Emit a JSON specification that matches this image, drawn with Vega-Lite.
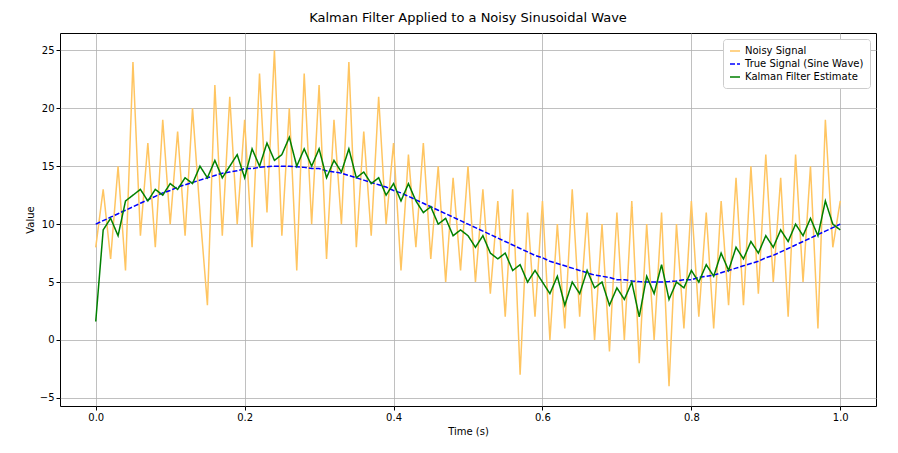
{
  "$schema": "https://vega.github.io/schema/vega-lite/v6.json",
  "width": 816,
  "height": 373,
  "autosize": "none",
  "padding": {"left": 60, "top": 33, "right": 22, "bottom": 47},
  "background": "white",
  "title": {"text": "Kalman Filter Applied to a Noisy Sinusoidal Wave", "fontSize": 13, "fontWeight": "normal", "font": "DejaVu Sans", "offset": 8, "color": "black"},
  "data": {
    "values": [
      {"t": 0.00, "n": 8, "s": 10.0, "k": 1.6},
      {"t": 0.01, "n": 13, "s": 10.3, "k": 9.5},
      {"t": 0.02, "n": 7, "s": 10.6, "k": 10.5},
      {"t": 0.03, "n": 15, "s": 10.9, "k": 9.0},
      {"t": 0.04, "n": 6, "s": 11.2, "k": 12},
      {"t": 0.05, "n": 24, "s": 11.5, "k": 12.5},
      {"t": 0.06, "n": 9, "s": 11.8, "k": 13},
      {"t": 0.07, "n": 17, "s": 12.1, "k": 12},
      {"t": 0.08, "n": 8, "s": 12.4, "k": 13},
      {"t": 0.09, "n": 19, "s": 12.7, "k": 12.5},
      {"t": 0.10, "n": 10, "s": 12.9, "k": 13.5},
      {"t": 0.11, "n": 18, "s": 13.2, "k": 13},
      {"t": 0.12, "n": 9, "s": 13.4, "k": 14},
      {"t": 0.13, "n": 20, "s": 13.6, "k": 13.5},
      {"t": 0.14, "n": 11, "s": 13.8, "k": 15},
      {"t": 0.15, "n": 3, "s": 14.0, "k": 14},
      {"t": 0.16, "n": 22, "s": 14.2, "k": 15.5},
      {"t": 0.17, "n": 9, "s": 14.4, "k": 14},
      {"t": 0.18, "n": 21, "s": 14.5, "k": 15},
      {"t": 0.19, "n": 10, "s": 14.6, "k": 16},
      {"t": 0.20, "n": 19, "s": 14.8, "k": 14},
      {"t": 0.21, "n": 8, "s": 14.8, "k": 16.5},
      {"t": 0.22, "n": 23, "s": 14.9, "k": 15},
      {"t": 0.23, "n": 11, "s": 14.96, "k": 17},
      {"t": 0.24, "n": 25, "s": 15.0, "k": 15.5},
      {"t": 0.25, "n": 9, "s": 15.0, "k": 16},
      {"t": 0.26, "n": 20, "s": 15.0, "k": 17.5},
      {"t": 0.27, "n": 6, "s": 14.96, "k": 15},
      {"t": 0.28, "n": 23, "s": 14.9, "k": 16.5},
      {"t": 0.29, "n": 10, "s": 14.8, "k": 15},
      {"t": 0.30, "n": 22, "s": 14.8, "k": 16.5},
      {"t": 0.31, "n": 7, "s": 14.6, "k": 14},
      {"t": 0.32, "n": 19, "s": 14.5, "k": 15.5},
      {"t": 0.33, "n": 10, "s": 14.4, "k": 14.5},
      {"t": 0.34, "n": 24, "s": 14.2, "k": 16.5},
      {"t": 0.35, "n": 8, "s": 14.0, "k": 14},
      {"t": 0.36, "n": 18, "s": 13.8, "k": 14.5},
      {"t": 0.37, "n": 9, "s": 13.6, "k": 13.5},
      {"t": 0.38, "n": 21, "s": 13.4, "k": 14},
      {"t": 0.39, "n": 10, "s": 13.2, "k": 12.5},
      {"t": 0.40, "n": 17, "s": 12.9, "k": 13.5},
      {"t": 0.41, "n": 6, "s": 12.7, "k": 12},
      {"t": 0.42, "n": 16, "s": 12.4, "k": 13.5},
      {"t": 0.43, "n": 8, "s": 12.1, "k": 12},
      {"t": 0.44, "n": 17, "s": 11.8, "k": 11},
      {"t": 0.45, "n": 7, "s": 11.5, "k": 11.5},
      {"t": 0.46, "n": 15, "s": 11.2, "k": 10},
      {"t": 0.47, "n": 5, "s": 10.9, "k": 10.5},
      {"t": 0.48, "n": 14, "s": 10.6, "k": 9},
      {"t": 0.49, "n": 6, "s": 10.3, "k": 9.5},
      {"t": 0.50, "n": 15, "s": 10.0, "k": 9},
      {"t": 0.51, "n": 5, "s": 9.7, "k": 8},
      {"t": 0.52, "n": 13, "s": 9.4, "k": 9},
      {"t": 0.53, "n": 4, "s": 9.1, "k": 7.5},
      {"t": 0.54, "n": 12, "s": 8.8, "k": 7},
      {"t": 0.55, "n": 2, "s": 8.5, "k": 7.5},
      {"t": 0.56, "n": 13, "s": 8.2, "k": 6},
      {"t": 0.57, "n": -3, "s": 7.9, "k": 6.5},
      {"t": 0.58, "n": 11, "s": 7.6, "k": 5},
      {"t": 0.59, "n": 2, "s": 7.3, "k": 6},
      {"t": 0.60, "n": 12, "s": 7.1, "k": 5},
      {"t": 0.61, "n": 0, "s": 6.8, "k": 4},
      {"t": 0.62, "n": 10, "s": 6.6, "k": 5.5},
      {"t": 0.63, "n": 1, "s": 6.4, "k": 3},
      {"t": 0.64, "n": 13, "s": 6.2, "k": 5},
      {"t": 0.65, "n": 2, "s": 6.0, "k": 4},
      {"t": 0.66, "n": 11, "s": 5.8, "k": 6},
      {"t": 0.67, "n": 0, "s": 5.6, "k": 4.5},
      {"t": 0.68, "n": 10, "s": 5.5, "k": 5},
      {"t": 0.69, "n": -1, "s": 5.4, "k": 3},
      {"t": 0.70, "n": 11, "s": 5.2, "k": 4.5},
      {"t": 0.71, "n": 0, "s": 5.2, "k": 3.5},
      {"t": 0.72, "n": 12, "s": 5.1, "k": 5},
      {"t": 0.73, "n": -2, "s": 5.04, "k": 2},
      {"t": 0.74, "n": 10, "s": 5.0, "k": 5.5},
      {"t": 0.75, "n": 0, "s": 5.0, "k": 4},
      {"t": 0.76, "n": 11, "s": 5.0, "k": 6.5},
      {"t": 0.77, "n": -4, "s": 5.04, "k": 3.5},
      {"t": 0.78, "n": 10, "s": 5.1, "k": 5},
      {"t": 0.79, "n": 1, "s": 5.2, "k": 4.5},
      {"t": 0.80, "n": 12, "s": 5.2, "k": 6},
      {"t": 0.81, "n": 2, "s": 5.4, "k": 5},
      {"t": 0.82, "n": 11, "s": 5.5, "k": 6.5},
      {"t": 0.83, "n": 1, "s": 5.6, "k": 5.5},
      {"t": 0.84, "n": 12, "s": 5.8, "k": 7.5},
      {"t": 0.85, "n": 3, "s": 6.0, "k": 6},
      {"t": 0.86, "n": 14, "s": 6.2, "k": 8},
      {"t": 0.87, "n": 3, "s": 6.4, "k": 7},
      {"t": 0.88, "n": 15, "s": 6.6, "k": 8.5},
      {"t": 0.89, "n": 4, "s": 6.8, "k": 7.5},
      {"t": 0.90, "n": 16, "s": 7.1, "k": 9},
      {"t": 0.91, "n": 5, "s": 7.3, "k": 8},
      {"t": 0.92, "n": 14, "s": 7.6, "k": 9.5},
      {"t": 0.93, "n": 2, "s": 7.9, "k": 8.5},
      {"t": 0.94, "n": 16, "s": 8.2, "k": 10},
      {"t": 0.95, "n": 5, "s": 8.5, "k": 9},
      {"t": 0.96, "n": 15, "s": 8.8, "k": 10.5},
      {"t": 0.97, "n": 1, "s": 9.1, "k": 9},
      {"t": 0.98, "n": 19, "s": 9.4, "k": 12},
      {"t": 0.99, "n": 8, "s": 9.7, "k": 10},
      {"t": 1.00, "n": 12, "s": 10.0, "k": 9.5}
    ]
  },
  "transform": [
    {"fold": ["n", "s", "k"], "as": ["series", "value"]},
    {"lookup": "series", "from": {"data": {"values": [
      {"series": "n", "label": "Noisy Signal", "ord": 0},
      {"series": "s", "label": "True Signal (Sine Wave)", "ord": 1},
      {"series": "k", "label": "Kalman Filter Estimate", "ord": 2}
    ]}, "key": "series", "fields": ["label", "ord"]}}
  ],
  "mark": {"type": "line", "strokeWidth": 1.5},
  "encoding": {
    "x": {"field": "t", "type": "quantitative", "title": "Time (s)",
      "scale": {"domain": [-0.048, 1.048], "nice": false, "zero": false},
      "axis": {"values": [0, 0.2, 0.4, 0.6, 0.8, 1.0], "format": ".1f"}},
    "y": {"field": "value", "type": "quantitative", "title": "Value",
      "scale": {"domain": [-5.7, 26.5], "nice": false, "zero": false},
      "axis": {"values": [-5, 0, 5, 10, 15, 20, 25]}},
    "detail": {"field": "ord", "type": "ordinal"},
    "order": {"field": "t", "type": "quantitative"},
    "color": {"field": "label", "type": "nominal", "title": null,
      "scale": {"domain": ["Noisy Signal", "True Signal (Sine Wave)", "Kalman Filter Estimate"], "range": ["#ffc561", "#0000ff", "#008000"]},
      "legend": {"orient": "top-right", "symbolType": "stroke", "symbolStrokeWidth": 1.5, "labelFontSize": 10, "padding": 6, "strokeColor": "#cccccc", "fillColor": "white", "cornerRadius": 3, "offset": 6}},
    "strokeDash": {"field": "label", "type": "nominal", "title": null,
      "scale": {"domain": ["Noisy Signal", "True Signal (Sine Wave)", "Kalman Filter Estimate"], "range": [[1, 0], [5, 2], [1, 0]]}}
  },
  "config": {
    "font": "DejaVu Sans",
    "view": {"stroke": "black", "strokeWidth": 1},
    "axis": {"grid": true, "gridColor": "#b0b0b0", "gridWidth": 0.8, "domain": false, "tickColor": "black", "labelColor": "black", "labelFontSize": 10, "titleFontSize": 10, "titleFontWeight": "normal", "titleColor": "black", "tickSize": 4}
  }
}
